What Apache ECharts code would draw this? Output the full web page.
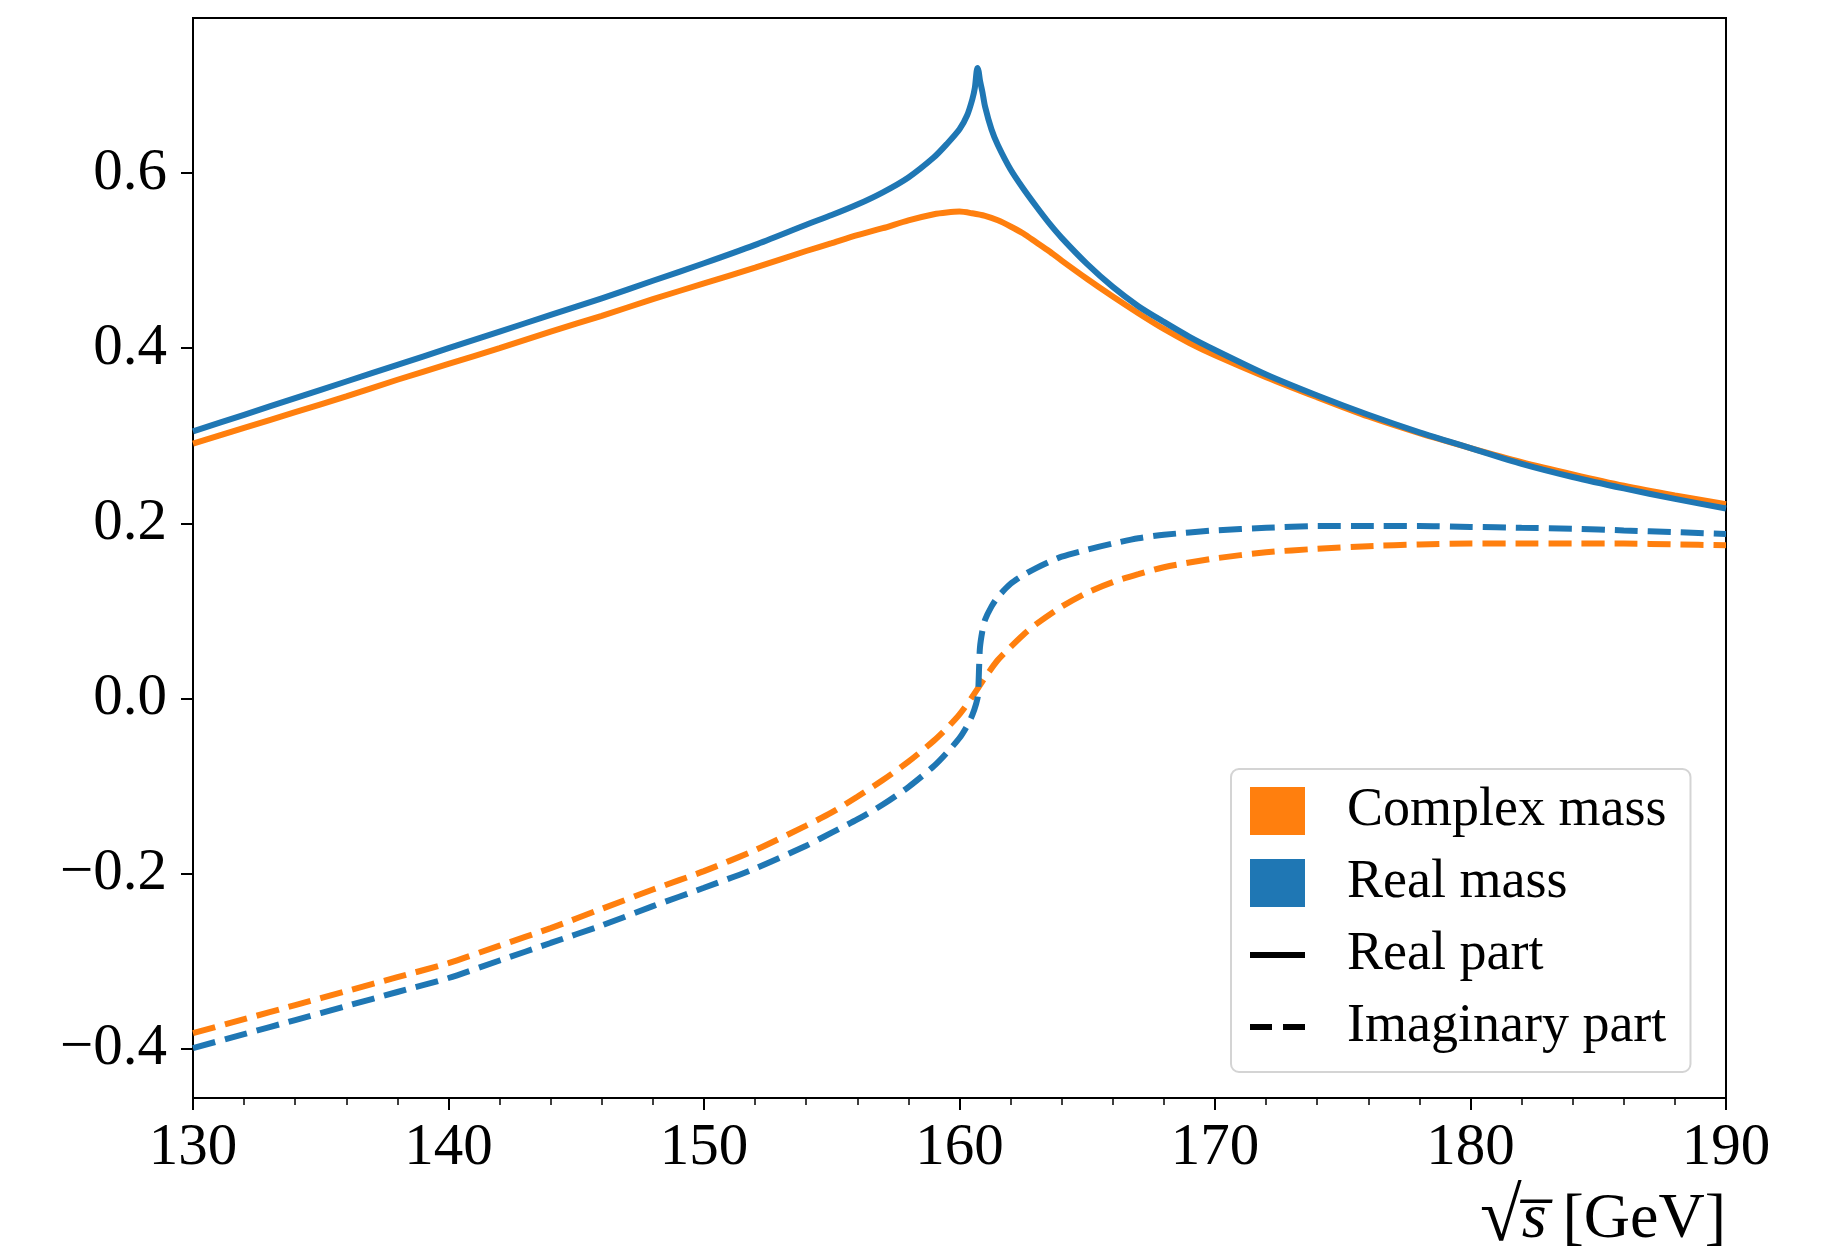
<!DOCTYPE html>
<html>
<head>
<meta charset="utf-8">
<script src="https://cdn.jsdelivr.net/npm/echarts@6/dist/echarts.min.js"></script>
<style>
  html, body { margin: 0; padding: 0; background: #fff; }
  #chart { width: 1825px; height: 1251px; }
</style>
</head>
<body>
<div id="chart"></div>
<script>
// ---- Data ----
const xReal = [130,132,134,136,138,140,142,144,146,148,150,152,154,155,156,157,158,159,159.5,160,160.3,160.5,160.6,160.7,160.75,160.8,160.9,161,161.25,161.5,162,162.5,163,163.5,164,165,166,167,168,169,170,172,174,176,178,180,182,184,186,188,190];
const realMassRe = [0.305,0.324,0.343,0.362,0.381,0.400,0.419,0.438,0.457,0.477,0.497,0.518,0.541,0.552,0.564,0.578,0.595,0.618,0.633,0.650,0.666,0.684,0.697,0.720,0.716,0.706,0.692,0.676,0.650,0.632,0.604,0.582,0.562,0.543,0.526,0.496,0.470,0.448,0.430,0.413,0.398,0.370,0.346,0.324,0.304,0.286,0.268,0.253,0.240,0.228,0.217];

const xComplexRe = [130,132,134,136,138,140,142,144,146,148,150,152,154,155,156,157,158,159,159.5,160,160.5,161,161.5,162,162.5,163,163.5,164,165,166,167,168,169,170,172,174,176,178,180,182,184,186,188,190];
const complexMassRe = [0.291,0.309,0.327,0.345,0.364,0.382,0.400,0.419,0.437,0.456,0.474,0.492,0.511,0.520,0.529,0.537,0.546,0.553,0.555,0.556,0.554,0.551,0.546,0.539,0.531,0.521,0.511,0.500,0.479,0.459,0.440,0.422,0.406,0.392,0.367,0.344,0.322,0.303,0.286,0.270,0.256,0.243,0.232,0.222];

const xRealIm = [130,132,134,136,138,140,142,144,146,148,150,152,154,155,156,157,158,159,159.5,160,160.3,160.5,160.65,160.72,160.76,160.8,160.9,161,161.25,161.5,162,162.5,163,163.5,164,165,166,167,168,170,172,174,176,178,180,182,184,186,188,190];
const realMassIm = [-0.399,-0.383,-0.367,-0.351,-0.335,-0.319,-0.299,-0.279,-0.259,-0.237,-0.216,-0.194,-0.168,-0.153,-0.138,-0.121,-0.101,-0.077,-0.062,-0.045,-0.031,-0.019,-0.006,0.003,0.030,0.058,0.078,0.090,0.105,0.116,0.131,0.141,0.149,0.156,0.162,0.170,0.177,0.183,0.187,0.192,0.195,0.197,0.197,0.197,0.196,0.195,0.194,0.192,0.190,0.188];

const xComplexIm = [130,132,134,136,138,140,142,144,146,148,150,152,154,155,156,157,158,159,159.5,160,160.5,161,161.5,162,162.5,163,164,165,166,167,168,170,172,174,176,178,180,182,184,186,188,190];
const complexMassIm = [-0.382,-0.366,-0.350,-0.334,-0.318,-0.302,-0.282,-0.262,-0.240,-0.218,-0.197,-0.173,-0.145,-0.130,-0.112,-0.093,-0.072,-0.048,-0.034,-0.018,0.002,0.024,0.044,0.059,0.073,0.085,0.105,0.121,0.133,0.142,0.150,0.160,0.167,0.171,0.174,0.176,0.177,0.177,0.177,0.177,0.176,0.175];

const yTicks = [-0.4,-0.2,0.0,0.2,0.4,0.6];
const legendNames = ['Complex mass','Real mass','Real part','Imaginary part'];

const ORANGE = '#ff7f0e', BLUE = '#1f77b4';
const FONT = 'Liberation Serif';

function pairs(xs, ys) { return xs.map((x, i) => [x, ys[i]]); }

const chart = echarts.init(document.getElementById('chart'));
const dash = [23, 10];
const SMOOTH = 0.25;

chart.setOption({
  animation: false,
  backgroundColor: '#fff',
  grid: {
    left: 193, right: 99, top: 18, bottom: 153,
    containLabel: false,
    outerBoundsMode: 'none',
    show: true, borderColor: '#000', borderWidth: 2, backgroundColor: 'transparent'
  },
  xAxis: {
    type: 'value', min: 130, max: 190, interval: 10,
    axisLine: { show: true, onZero: false, lineStyle: { color: '#000', width: 2 } },
    axisTick: { show: true, inside: false, length: 12, lineStyle: { color: '#000', width: 2 } },
    minorTick: { show: true, splitNumber: 5, length: 7, lineStyle: { color: '#000', width: 1.5 } },
    splitLine: { show: false },
    axisLabel: { fontFamily: FONT, fontSize: 59, color: '#000', margin: 21 },
    name: '{r|√}{s|s\u0305} [GeV]',
    nameLocation: 'end',
    nameGap: 0,
    nameTextStyle: {
      fontFamily: FONT, fontSize: 64, color: '#000',
      align: 'right', verticalAlign: 'top', padding: [84, 0, 0, 0],
      rich: {
        r: { fontFamily: FONT, fontSize: 76, color: '#000' },
        s: { fontFamily: FONT, fontSize: 64, fontStyle: 'italic', color: '#000' }
      }
    }
  },
  yAxis: {
    type: 'value', min: -0.456, max: 0.777,
    axisLine: { show: true, onZero: false, lineStyle: { color: '#000', width: 2 } },
    axisTick: { show: true, inside: false, length: 12, customValues: yTicks, lineStyle: { color: '#000', width: 2 } },
    splitLine: { show: false },
    axisLabel: {
      customValues: yTicks,
      fontFamily: FONT, fontSize: 59, color: '#000', margin: 26,
      formatter: v => (v < -1e-9 ? '\u2212' : '') + Math.abs(v).toFixed(1)
    }
  },
  legend: {
    orient: 'vertical',
    left: 1231, top: 769,
    padding: [15, 24, 18, 19],
    itemWidth: 55, itemHeight: 48, itemGap: 18,
    backgroundColor: '#fff',
    borderColor: '#d4d4d4', borderWidth: 2, borderRadius: 8,
    symbolKeepAspect: true,
    textStyle: { fontFamily: FONT, fontSize: 54, lineHeight: 48, color: '#000', padding: [0, 0, 0, 37] },
    selectedMode: false,
    data: [
      { name: legendNames[0], icon: 'rect' },
      { name: legendNames[1], icon: 'rect' },
      { name: legendNames[2], icon: 'path://M0,0h55v6h-55z' },
      { name: legendNames[3], icon: 'path://M0,0h22v6h-22zM33,0h22v6h-22z' }
    ]
  },
  series: [
    { name: 'cm_re', type: 'line', data: pairs(xComplexRe, complexMassRe), symbol: 'none', color: ORANGE,
      smooth: SMOOTH, lineStyle: { color: ORANGE, width: 6 }, z: 2 },
    { name: 'rm_re', type: 'line', data: pairs(xReal, realMassRe), symbol: 'none', color: BLUE,
      smooth: SMOOTH, lineStyle: { color: BLUE, width: 6, join: 'round' }, z: 3 },
    { name: 'cm_im', type: 'line', data: pairs(xComplexIm, complexMassIm), symbol: 'none', color: ORANGE,
      smooth: SMOOTH, lineStyle: { color: ORANGE, width: 6, type: dash }, z: 2 },
    { name: 'rm_im', type: 'line', data: pairs(xRealIm, realMassIm), symbol: 'none', color: BLUE,
      smooth: SMOOTH, lineStyle: { color: BLUE, width: 6, type: dash }, z: 3 },
    // legend-only entries
    { name: legendNames[0], type: 'line', data: [], color: ORANGE, itemStyle: { color: ORANGE }, symbol: 'none' },
    { name: legendNames[1], type: 'line', data: [], color: BLUE, itemStyle: { color: BLUE }, symbol: 'none' },
    { name: legendNames[2], type: 'line', data: [], color: '#000', itemStyle: { color: '#000' }, symbol: 'none' },
    { name: legendNames[3], type: 'line', data: [], color: '#000', itemStyle: { color: '#000' }, symbol: 'none' }
  ]
});
</script>
</body>
</html>
